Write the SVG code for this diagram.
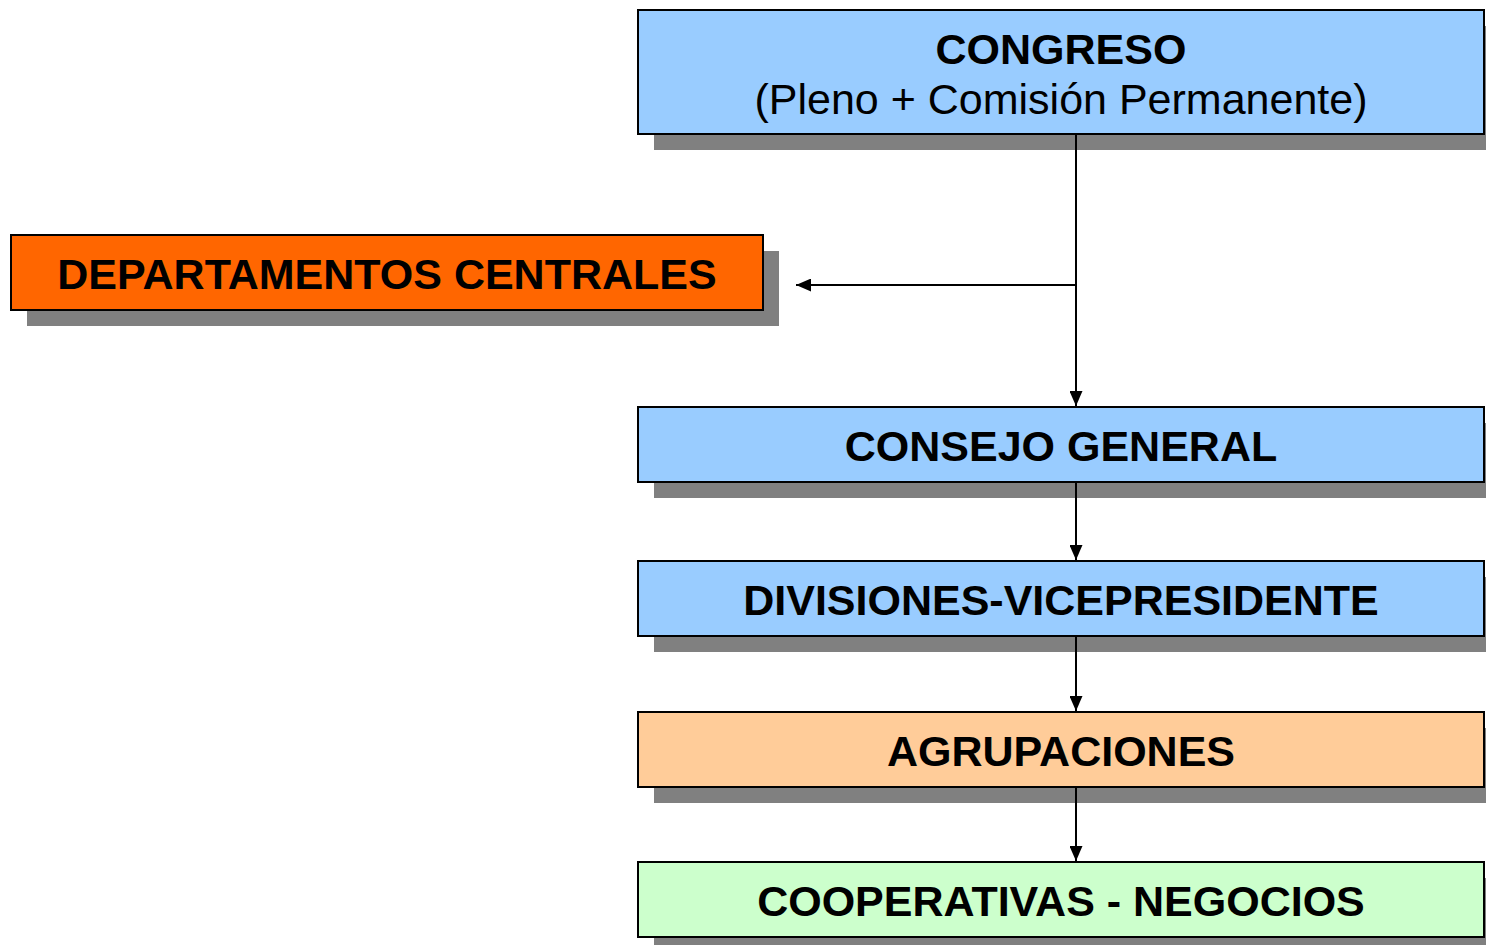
<svg xmlns="http://www.w3.org/2000/svg" width="1486" height="945" viewBox="0 0 1486 945">
<style>
.sh{fill:#808080}
.bx{stroke:#000;stroke-width:2}
.t{font-family:"Liberation Sans",Arial,sans-serif;font-size:43px;font-weight:bold;text-anchor:middle;fill:#000}
.r{font-weight:normal}
.c{stroke:#000;stroke-width:2;fill:none}
</style>
<defs>
<marker id="ah" viewBox="0 0 15 13" refX="15" refY="6.5" markerWidth="15" markerHeight="13" markerUnits="userSpaceOnUse" orient="auto">
<path d="M0,0 L15,6.5 L0,13 Z" fill="#000"/>
</marker>
</defs>
<rect width="1486" height="945" fill="#fff"/>
<g id="congreso">
<rect class="sh" x="654" y="26" width="832" height="124"/>
<rect class="bx" x="638" y="10" width="846" height="124" fill="#99CCFF"/>
<text class="t" x="1061" y="64">CONGRESO</text>
<text class="t r" x="1061" y="114">(Pleno + Comisión Permanente)</text>
</g>
<g id="departamentos">
<rect class="sh" x="27" y="251" width="752" height="75"/>
<rect class="bx" x="11" y="235" width="752" height="75" fill="#FF6600"/>
<text class="t" x="387" y="289">DEPARTAMENTOS CENTRALES</text>
</g>
<g id="consejo">
<rect class="sh" x="654" y="423" width="832" height="75"/>
<rect class="bx" x="638" y="407" width="846" height="75" fill="#99CCFF"/>
<text class="t" x="1061" y="461">CONSEJO GENERAL</text>
</g>
<g id="divisiones">
<rect class="sh" x="654" y="577" width="832" height="75"/>
<rect class="bx" x="638" y="561" width="846" height="75" fill="#99CCFF"/>
<text class="t" x="1061" y="615">DIVISIONES-VICEPRESIDENTE</text>
</g>
<g id="agrupaciones">
<rect class="sh" x="654" y="728" width="832" height="75"/>
<rect class="bx" x="638" y="712" width="846" height="75" fill="#FFCC99"/>
<text class="t" x="1061" y="766">AGRUPACIONES</text>
</g>
<g id="cooperativas">
<rect class="sh" x="654" y="878" width="832" height="67"/>
<rect class="bx" x="638" y="862" width="846" height="75" fill="#CCFFCC"/>
<text class="t" x="1061" y="916">COOPERATIVAS - NEGOCIOS</text>
</g>
<g id="connectors">
<path class="c" d="M1076,135 V406" marker-end="url(#ah)"/>
<path class="c" d="M1076,285 H796" marker-end="url(#ah)"/>
<path class="c" d="M1076,483 V560" marker-end="url(#ah)"/>
<path class="c" d="M1076,637 V711" marker-end="url(#ah)"/>
<path class="c" d="M1076,788 V861" marker-end="url(#ah)"/>
</g>
</svg>
